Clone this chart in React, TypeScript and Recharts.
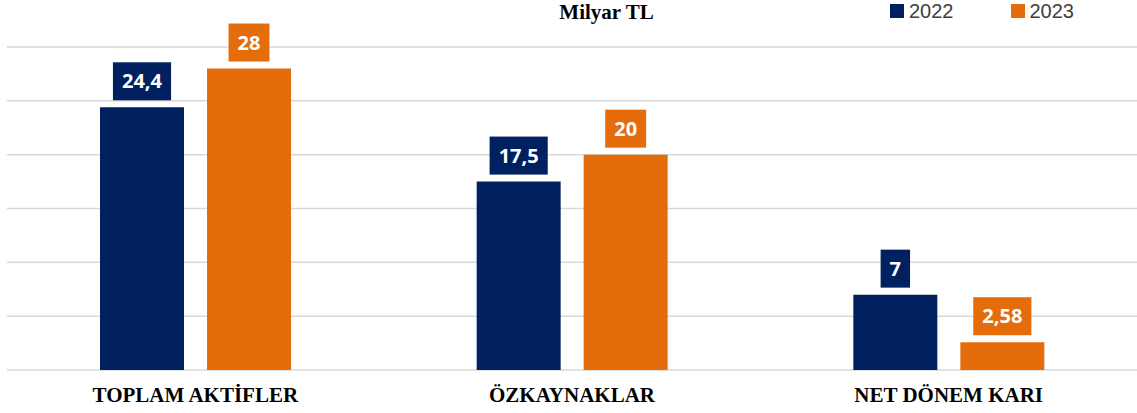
import { Bar, BarChart, CartesianGrid, LabelList, XAxis, YAxis } from 'recharts'

const categories = ['TOPLAM AKTİFLER', 'ÖZKAYNAKLAR', 'NET DÖNEM KARI']
const values2022 = [24.4, 17.5, 7]
const values2023 = [28, 20, 2.58]
const yTicks = [0, 5, 10, 15, 20, 25, 30]
const seriesNames = ['2022', '2023']

const NAVY = '#002060'
const ORANGE = '#E46C0A'
const GRID = '#d9d9d9'

const data = categories.map((name, i) => ({ name, y2022: values2022[i], y2023: values2023[i] }))

const fmt = (v: number) => String(v).replace('.', ',')

// rough text width for Open Sans bold
const textWidth = (s: string, size: number) =>
  s.split('').reduce((w, c) => w + (c === ',' ? 0.29 : 0.572) * size, 0)

const boxLabel = (color: string) => (props: any) => {
  const { x, y, width, value } = props
  const txt = fmt(Number(value))
  const w = textWidth(txt, 20) + 18
  const h = 38
  const cx = x + width / 2
  const top = y - 7 - h
  return (
    <g>
      <rect x={cx - w / 2} y={top} width={w} height={h} fill={color} />
      <text
        x={cx}
        y={top + h / 2}
        dy="0.36em"
        textAnchor="middle"
        fill="#fff"
        fontFamily="'Open Sans', sans-serif"
        fontWeight={700}
        fontSize={20}
      >
        {txt}
      </text>
    </g>
  )
}

const CategoryTick = (props: any) => {
  const { x, y, payload } = props
  return (
    <text
      x={x}
      y={y + 24}
      textAnchor="middle"
      fill="#000"
      fontFamily="'Liberation Serif', 'Times New Roman', serif"
      fontWeight={700}
      fontSize={21}
    >
      {payload.value}
    </text>
  )
}

const colors = [NAVY, ORANGE]

export default function App() {
  return (
    <div style={{ position: 'absolute', left: 0, top: 0, width: 1137, height: 413, background: '#fff' }}>
      <div
        style={{
          position: 'absolute',
          left: 0,
          width: 1213,
          top: 0,
          textAlign: 'center',
          fontFamily: "'Liberation Serif', 'Times New Roman', serif",
          fontWeight: 700,
          fontSize: 21,
          lineHeight: '24px',
          color: '#000',
        }}
      >
        Milyar TL
      </div>
      <div
        style={{
          position: 'absolute',
          left: 890,
          top: 0,
          display: 'flex',
          fontFamily: "'Liberation Sans', Arial, sans-serif",
          fontSize: 20,
          color: '#404040',
          zIndex: 2,
        }}
      >
        {seriesNames.map((label, i) => (
          <div key={label} style={{ display: 'flex', alignItems: 'center', marginRight: i === 0 ? 57 : 0 }}>
            <span style={{ width: 14, height: 14, background: colors[i], display: 'inline-block', marginRight: 5 }} />
            <span style={{ lineHeight: '22px' }}>{label}</span>
          </div>
        ))}
      </div>
      <BarChart
        width={1137}
        height={413}
        data={data}
        margin={{ top: 47, right: 0, left: 7, bottom: 0 }}
        barGap={23}
        barSize={84}
      >
        <CartesianGrid horizontal vertical={false} stroke={GRID} strokeWidth={1.5} />
        <XAxis dataKey="name" axisLine={false} tickLine={false} height={43} tick={<CategoryTick />} interval={0} />
        <YAxis hide domain={[0, 30]} ticks={yTicks} />
        <Bar dataKey="y2022" fill={NAVY} isAnimationActive={false}>
          <LabelList dataKey="y2022" content={boxLabel(NAVY)} />
        </Bar>
        <Bar dataKey="y2023" fill={ORANGE} isAnimationActive={false}>
          <LabelList dataKey="y2023" content={boxLabel(ORANGE)} />
        </Bar>
      </BarChart>
    </div>
  )
}
